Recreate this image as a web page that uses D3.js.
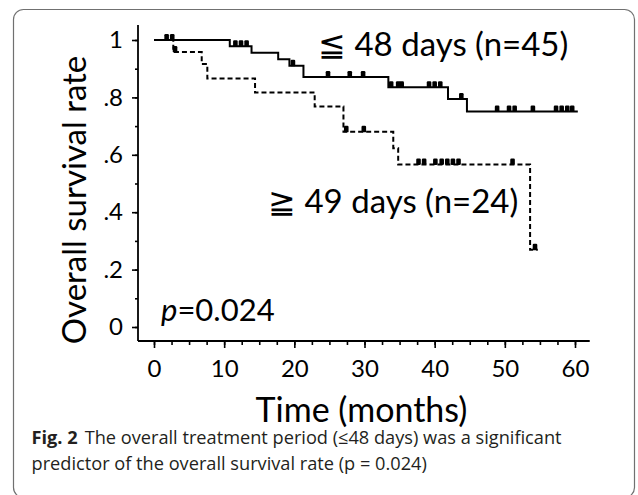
<!DOCTYPE html>
<html>
<head>
<meta charset="utf-8">
<script src="https://cdnjs.cloudflare.com/ajax/libs/d3/7.8.5/d3.min.js"></script>
<style>
body { margin: 0; background: #fff; }
</style>
</head>
<body>
<div id="km_plot"></div>
<script>

// tick values / labels
var xTicks = [0, 10, 20, 30, 40, 50, 60];
var yTicks = [0, 0.2, 0.4, 0.6, 0.8, 1];
var yTickLabels = ["0", ".2", ".4", ".6", ".8", "1"];

// <=48 days group (solid)
var shortTimes = [0, 10.8, 13.9, 17.7, 19.3, 21.3, 33.4, 41.9, 44.6];
var shortSurv  = [1, 0.978, 0.956, 0.933, 0.91, 0.871, 0.835, 0.794, 0.751];
var shortEnd = 60.4;
var shortCensor = [1.8, 2.6, 11.6, 12.4, 13.2, 19.8, 24.8, 27.9, 29.8, 33.8, 34.8,
                   35.3, 39.2, 40.0, 40.8, 43.8, 48.9, 50.6, 51.4, 54.0, 57.3, 58.1, 58.9, 59.6];

// >=49 days group (dashed)
var longTimes = [0, 2.75, 6.8, 7.6, 14.4, 22.9, 27.0, 34.1, 34.8, 53.6];
var longSurv  = [1, 0.958, 0.916, 0.866, 0.817, 0.768, 0.68, 0.623, 0.566, 0.269];
var longEnd = 54.7;
var longCensor = [3.0, 27.4, 29.9, 37.7, 38.5, 40.1, 41.0, 41.8, 42.6, 43.4, 51.1, 54.3];

var width = 638, height = 495;
var font = "Lato, 'Open Sans', sans-serif";

var x = d3.scaleLinear().domain([0, 60]).range([154, 575]);
var y = d3.scaleLinear().domain([0, 1]).range([327, 40]);

var svg = d3.select("div#km_plot").append("svg")
        .attr("width", width)
        .attr("height", height);

// frame
svg.append("rect")
    .attr("x", 13.5).attr("y", 9.5)
    .attr("width", 621).attr("height", 488)
    .attr("rx", 10).attr("ry", 10)
    .attr("fill", "none")
    .attr("stroke", "#707070")
    .attr("stroke-width", 1.2);

// axes
var xAxis = d3.axisBottom(x).tickValues(xTicks).tickSize(7).tickSizeOuter(0).tickPadding(12);
var xMinor = d3.axisBottom(x).tickValues(d3.range(0, 60.1, 2.5)).tickSize(4).tickFormat("");
var yAxis = d3.axisLeft(y).tickValues(yTicks).tickSize(6).tickSizeOuter(0).tickPadding(9)
        .tickFormat(function(d, i) { return yTickLabels[i]; });
var yMinor = d3.axisLeft(y).tickValues(d3.range(0, 1.01, 0.1)).tickSize(3).tickFormat("");

var axisY0 = 341, axisX0 = 138;

[xMinor, xAxis].forEach(function(ax) {
    svg.append("g")
        .attr("class", "x_axis")
        .attr("transform", "translate(0," + axisY0 + ")")
        .call(ax);
});
[yMinor, yAxis].forEach(function(ax) {
    svg.append("g")
        .attr("class", "y_axis")
        .attr("transform", "translate(" + axisX0 + ",0)")
        .call(ax);
});
svg.selectAll(".x_axis .domain, .y_axis .domain").remove();
svg.selectAll(".x_axis line, .y_axis line").attr("stroke", "#000").attr("stroke-width", 1.6);
svg.selectAll(".x_axis text, .y_axis text")
    .attr("font-family", font)
    .attr("font-size", 24)
    .attr("fill", "#000");

// axis lines run a bit past the data range
svg.append("line")
    .attr("x1", axisX0).attr("x2", x(62.1))
    .attr("y1", axisY0).attr("y2", axisY0)
    .attr("stroke", "#000").attr("stroke-width", 1.8);
svg.append("line")
    .attr("x1", axisX0).attr("x2", axisX0)
    .attr("y1", axisY0).attr("y2", y(1.052))
    .attr("stroke", "#000").attr("stroke-width", 1.8);

// step curves
function stepData(times, surv, end) {
    var pts = times.map(function(t, i) { return {t: t, s: surv[i]}; });
    pts.push({t: end, s: surv[surv.length - 1]});
    return pts;
}
function survAt(times, surv, t) {
    var s = surv[0];
    times.forEach(function(tt, i) { if (tt <= t) s = surv[i]; });
    return s;
}

var line = d3.line()
    .x(function(d) { return x(d.t); })
    .y(function(d) { return y(d.s); })
    .curve(d3.curveStepAfter);

svg.append("path")
    .datum(stepData(longTimes, longSurv, longEnd))
    .attr("d", line)
    .attr("fill", "none")
    .attr("stroke", "#000")
    .attr("stroke-width", 2)
    .attr("stroke-dasharray", "5,3");

svg.append("path")
    .datum(stepData(shortTimes, shortSurv, shortEnd))
    .attr("d", line)
    .attr("fill", "none")
    .attr("stroke", "#000")
    .attr("stroke-width", 2);

// censor marks
svg.selectAll("censor_short")
    .data(shortCensor)
  .enter().append("rect")
    .attr("x", function(d) { return x(d) - 2.3; })
    .attr("y", function(d) { return y(survAt(shortTimes, shortSurv, d)) - 6; })
    .attr("width", 4.6).attr("height", 6.5).attr("rx", 1.2)
    .attr("fill", "#000");

svg.selectAll("censor_long")
    .data(longCensor)
  .enter().append("rect")
    .attr("x", function(d) { return x(d) - 2.3; })
    .attr("y", function(d) { return y(survAt(longTimes, longSurv, d)) - 6; })
    .attr("width", 4.6).attr("height", 6.5).attr("rx", 1.2)
    .attr("fill", "#000");

// labels
svg.append("text")
    .attr("x", 318).attr("y", 56)
    .attr("font-family", font).attr("font-size", 33)
    .text("\u2266 48 days (n=45)");

svg.append("text")
    .attr("x", 268).attr("y", 213)
    .attr("font-family", font).attr("font-size", 33)
    .text("\u2267 49 days (n=24)");

var pText = svg.append("text")
    .attr("x", 161).attr("y", 321)
    .attr("font-family", font).attr("font-size", 31);
pText.append("tspan").attr("font-style", "italic").text("p");
pText.append("tspan").text("=0.024");

svg.append("text")
    .attr("x", 361.5).attr("y", 422)
    .attr("text-anchor", "middle")
    .attr("font-family", font).attr("font-size", 34)
    .text("Time (months)");

svg.append("text")
    .attr("transform", "translate(86,200) rotate(-90)")
    .attr("text-anchor", "middle")
    .attr("font-family", font).attr("font-size", 33)
    .text("Overall survival rate");

// caption
var capFont = "'Open Sans', 'Noto Sans', sans-serif";
var cap1 = svg.append("text")
    .attr("x", 31.5).attr("y", 444)
    .attr("font-family", capFont).attr("font-size", 18.2).attr("fill", "#231f20");
cap1.append("tspan").attr("font-weight", "bold").text("Fig. 2");
cap1.append("tspan").attr("dx", 7).text("The overall treatment period (\u226448 days) was a significant");

svg.append("text")
    .attr("x", 31.5).attr("y", 470)
    .attr("font-family", capFont).attr("font-size", 18.2).attr("fill", "#231f20")
    .text("predictor of the overall survival rate (p = 0.024)");

</script>
</body>
</html>
